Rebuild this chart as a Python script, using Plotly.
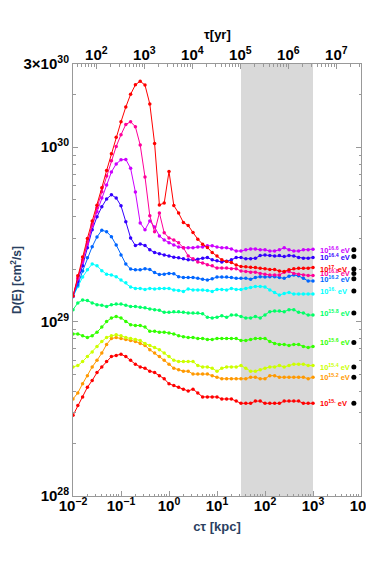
import numpy as np
import plotly.graph_objects as go

# c*tau sampling in kpc (10 points per decade, 1e-2 .. 1e3)
ct_kpc = np.logspace(-2, 3, 51)
KPC_TO_YR = 3262.0          # tau[yr] = c tau[kpc] * 3262
SHADE_KPC = (10 ** 1.5, 1e3)

energy_log = [15.0, 15.2, 15.4, 15.6, 15.8, 16.0, 16.2, 16.4, 16.6, 16.8, 17.0]

# D(E) in units of 1e29 cm^2/s
d_150 = [0.29, 0.33, 0.37, 0.42, 0.46, 0.51, 0.55, 0.59, 0.63, 0.64,
         0.65, 0.63, 0.60, 0.57, 0.55, 0.54, 0.52, 0.51, 0.49, 0.47,
         0.44, 0.43, 0.42, 0.41, 0.40, 0.41, 0.39, 0.37, 0.37, 0.37,
         0.37, 0.36, 0.36, 0.36, 0.35, 0.34, 0.34, 0.34, 0.35, 0.35,
         0.34, 0.34, 0.34, 0.34, 0.35, 0.35, 0.35, 0.35, 0.34, 0.34, 0.34]
d_152 = [0.36, 0.39, 0.44, 0.49, 0.55, 0.60, 0.66, 0.74, 0.80, 0.81,
         0.80, 0.79, 0.78, 0.77, 0.75, 0.73, 0.69, 0.66, 0.63, 0.60,
         0.57, 0.54, 0.53, 0.52, 0.52, 0.50, 0.50, 0.50, 0.50, 0.49,
         0.48, 0.47, 0.47, 0.47, 0.47, 0.47, 0.47, 0.48, 0.48, 0.47,
         0.47, 0.49, 0.49, 0.48, 0.48, 0.48, 0.48, 0.48, 0.48, 0.47, 0.48]
d_154 = [0.55, 0.56, 0.59, 0.63, 0.67, 0.72, 0.77, 0.81, 0.83, 0.84,
         0.83, 0.81, 0.80, 0.79, 0.78, 0.75, 0.73, 0.71, 0.69, 0.66,
         0.63, 0.60, 0.59, 0.59, 0.59, 0.59, 0.56, 0.55, 0.55, 0.54,
         0.52, 0.54, 0.55, 0.55, 0.55, 0.56, 0.54, 0.52, 0.52, 0.53,
         0.54, 0.55, 0.55, 0.56, 0.55, 0.56, 0.57, 0.57, 0.57, 0.56, 0.56]
d_156 = [0.85, 0.85, 0.83, 0.81, 0.83, 0.87, 0.93, 1.00, 1.05, 1.07,
         1.05, 1.00, 0.96, 0.95, 0.95, 0.93, 0.88, 0.88, 0.87, 0.87,
         0.86, 0.85, 0.83, 0.82, 0.81, 0.81, 0.80, 0.80, 0.79, 0.79,
         0.80, 0.80, 0.80, 0.80, 0.80, 0.78, 0.78, 0.79, 0.80, 0.80,
         0.80, 0.77, 0.75, 0.74, 0.74, 0.73, 0.74, 0.74, 0.72, 0.71, 0.72]
d_158 = [1.17, 1.28, 1.33, 1.32, 1.28, 1.25, 1.24, 1.22, 1.25, 1.26,
         1.26, 1.24, 1.22, 1.22, 1.21, 1.20, 1.18, 1.17, 1.16, 1.13,
         1.13, 1.14, 1.14, 1.13, 1.12, 1.12, 1.12, 1.11, 1.06, 1.05,
         1.06, 1.08, 1.06, 1.09, 1.09, 1.07, 1.05, 1.05, 1.07, 1.05,
         1.09, 1.14, 1.15, 1.15, 1.14, 1.17, 1.17, 1.13, 1.12, 1.09, 1.09]
d_160 = [1.39, 1.59, 1.80, 1.98, 2.14, 2.09, 1.96, 1.87, 1.85, 1.81,
         1.73, 1.67, 1.58, 1.55, 1.55, 1.53, 1.55, 1.54, 1.55, 1.55,
         1.55, 1.52, 1.51, 1.49, 1.54, 1.52, 1.52, 1.52, 1.51, 1.49,
         1.53, 1.53, 1.52, 1.55, 1.53, 1.53, 1.55, 1.57, 1.59, 1.59,
         1.58, 1.52, 1.47, 1.42, 1.45, 1.47, 1.44, 1.44, 1.44, 1.44, 1.44]
d_162 = [1.40, 1.62, 1.95, 2.32, 2.69, 3.06, 3.34, 3.28, 3.07, 2.75,
         2.41, 2.14, 2.00, 1.98, 1.98, 2.01, 1.99, 1.91, 1.86, 1.87,
         1.89, 1.88, 1.81, 1.79, 1.79, 1.79, 1.77, 1.75, 1.73, 1.76,
         1.80, 1.80, 1.80, 1.79, 1.77, 1.77, 1.77, 1.75, 1.79, 1.81,
         1.80, 1.81, 1.81, 1.79, 1.77, 1.82, 1.85, 1.83, 1.77, 1.71, 1.71]
d_164 = [1.40, 1.69, 2.09, 2.65, 3.36, 3.99, 4.55, 5.05, 5.33, 5.12,
         4.61, 3.74, 3.02, 2.73, 2.79, 2.73, 2.58, 2.49, 2.45, 2.41,
         2.38, 2.34, 2.32, 2.29, 2.26, 2.26, 2.28, 2.31, 2.33, 2.26,
         2.23, 2.20, 2.22, 2.26, 2.33, 2.33, 2.29, 2.29, 2.31, 2.39,
         2.41, 2.39, 2.38, 2.39, 2.36, 2.39, 2.38, 2.33, 2.31, 2.31, 2.33]
d_166 = [1.40, 1.76, 2.20, 2.79, 3.54, 4.26, 5.12, 6.08, 7.21, 8.02,
         8.46, 8.51, 7.57, 5.53, 3.68, 3.36, 3.78, 3.49, 3.10, 2.94,
         2.83, 2.75, 2.68, 2.65, 2.65, 2.65, 2.68, 2.68, 2.72, 2.72,
         2.68, 2.65, 2.65, 2.61, 2.54, 2.54, 2.58, 2.61, 2.61, 2.58,
         2.58, 2.54, 2.54, 2.58, 2.65, 2.58, 2.54, 2.54, 2.58, 2.58, 2.60]
d_168 = [1.40, 1.78, 2.26, 2.87, 3.63, 4.49, 5.55, 6.84, 8.37, 10.1,
         11.8, 13.5, 14.0, 13.1, 10.3, 6.75, 4.04, 3.27, 4.20, 3.23,
         3.02, 2.94, 2.83, 2.65, 2.38, 2.29, 2.20, 2.17, 2.12, 2.09,
         2.03, 2.03, 2.03, 2.01, 2.01, 1.95, 1.94, 1.92, 1.92, 1.89,
         1.87, 1.85, 1.85, 1.85, 1.92, 1.94, 1.89, 1.87, 1.85, 1.84, 1.84]
d_170 = [1.40, 1.83, 2.35, 3.00, 3.77, 4.65, 5.85, 7.35, 9.17, 11.4,
         14.0, 17.0, 20.1, 22.8, 23.9, 22.7, 17.7, 10.5, 4.67, 4.78,
         7.26, 4.63, 4.19, 3.70, 3.56, 3.24, 2.97, 2.78, 2.66, 2.49,
         2.38, 2.26, 2.21, 2.18, 2.11, 2.07, 2.06, 2.05, 2.04, 2.02,
         2.01, 1.99, 1.99, 1.95, 1.94, 1.98, 2.01, 2.02, 2.02, 2.02, 2.04]

curves = [d_150, d_152, d_154, d_156, d_158, d_160,
          d_162, d_164, d_166, d_168, d_170]

# asymptotic values (black dots at the right), same order as energy_log
DOT_CT = 7.1e3
dot_values = [0.34, 0.48, 0.55, 0.76, 1.12, 1.50, 1.76, 2.36, 2.58, 1.89, 2.00]
LABEL_CT = 1.25e3

FONT = 'Liberation Sans, Arial, sans-serif'
FRAME = '#999999'


def hue_color(e):
    return f'hsl({(e - 15.0) / 2.0 * 360.0:.0f},100%,50%)'


def sup(base, exp):
    return f'{base}<sup>{exp}</sup>'


fig = go.Figure()

fig.add_shape(type='rect', xref='x', yref='paper',
              x0=SHADE_KPC[0], x1=SHADE_KPC[1],
              y0=0, y1=1, fillcolor='#d9d9d9', line_width=0, layer='below')

for e, d in zip(energy_log, curves):
    c = hue_color(e)
    fig.add_trace(go.Scatter(
        x=ct_kpc, y=np.array(d) * 1e29,
        mode='lines+markers',
        line=dict(color=c, width=1),
        marker=dict(color=c, size=3.5),
        showlegend=False, hoverinfo='skip'
    ))

fig.add_trace(go.Scatter(
    x=[DOT_CT] * len(dot_values), y=np.array(dot_values) * 1e29,
    mode='markers', marker=dict(color='black', size=5),
    showlegend=False
))

# dummy trace so that the tau axis on top is drawn
fig.add_trace(go.Scatter(x=[1e3], y=[1e29], xaxis='x2', mode='markers',
                         marker=dict(opacity=0), showlegend=False,
                         hoverinfo='skip'))

for e, v in zip(energy_log, dot_values):
    etxt = f'{e:.1f}' if e % 1 else f'{int(e)}.'
    fig.add_annotation(
        x=np.log10(LABEL_CT), y=np.log10(v * 1e29),
        text=f'10<sup>{etxt}</sup> eV', showarrow=False,
        xanchor='left', yanchor='middle',
        font=dict(family=FONT, size=7.5, color=hue_color(e), weight='bold')
    )

# title of the tau axis on top
fig.add_annotation(x=0.5, y=1, xref='paper', yref='paper', yshift=30,
                   text='τ[yr]', showarrow=False, yanchor='middle',
                   font=dict(family=FONT, size=13, color='black',
                             weight='bold'))

x_exp = [-2, -1, 0, 1, 2, 3, 4]
tau_exp = [2, 3, 4, 5, 6, 7]
y_ticks = [1e28, 1e29, 1e30, 3e30]
y_text = [sup('10', 28), sup('10', 29), sup('10', 30), sup('3×10', 30)]

minor_x = [k * 10.0 ** p for p in range(-2, 4) for k in range(2, 10)]
minor_tau = [k * 10.0 ** p for p in range(1, 8) for k in range(2, 10)]
minor_y = [k * 10.0 ** p for p in range(28, 31) for k in range(2, 10)]

axis_common = dict(
    type='log', showgrid=False, zeroline=False, automargin=False,
    showline=True, linecolor=FRAME, linewidth=1,
    ticks='inside', ticklen=5, tickcolor=FRAME,
    tickfont=dict(family=FONT, size=15, color='black', weight='bold'),
)

# the page body adds an 8px margin; the figure is sized to fill the rest
fig.update_layout(
    width=366, height=545,
    margin=dict(l=65, r=13, t=56, b=57),
    paper_bgcolor='white', plot_bgcolor='white',
    xaxis=dict(
        axis_common,
        range=[-2, 4], mirror=True,
        tickvals=[10.0 ** p for p in x_exp],
        ticktext=[sup('10', str(p).replace('-', '−')) for p in x_exp],
        ticklabeloverflow='allow',
        ticklabelstandoff=-4,
        minor=dict(tickvals=minor_x, ticks='inside', ticklen=2.5,
                   tickcolor=FRAME, showgrid=False),
        title=dict(text='cτ [kpc]', standoff=8,
                   font=dict(family=FONT, size=13, weight='bold')),
    ),
    xaxis2=dict(
        axis_common,
        overlaying='x', side='top', anchor='y',
        range=[np.log10(1e-2 * KPC_TO_YR), np.log10(1e4 * KPC_TO_YR)],
        tickvals=[10.0 ** p for p in tau_exp],
        ticktext=[sup('10', p) for p in tau_exp],
        ticklabelstandoff=-3,
        minor=dict(tickvals=minor_tau, ticks='inside', ticklen=2.5,
                   tickcolor=FRAME, showgrid=False),
    ),
    yaxis=dict(
        axis_common,
        range=[28, np.log10(3e30)], mirror='ticks',
        tickvals=y_ticks, ticktext=y_text,
        minor=dict(tickvals=minor_y, ticks='inside', ticklen=2.5,
                   tickcolor=FRAME, showgrid=False),
        title=dict(text='D(E) [cm<sup>2</sup>/s]', standoff=0,
                   font=dict(family=FONT, size=12, weight='bold')),
    ),
)

fig.write_html('out.html')
